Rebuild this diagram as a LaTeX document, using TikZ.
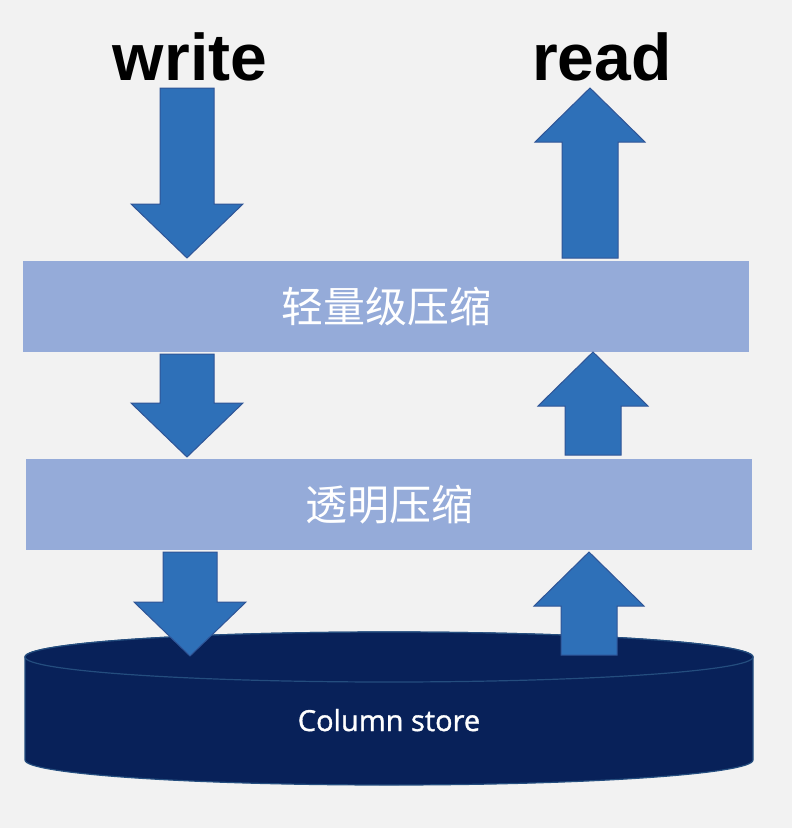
\documentclass[tikz,border=0pt]{standalone}
\usepackage{fontspec}
\setmainfont{Liberation Sans}
\newfontfamily\cjk{Noto Sans CJK SC}
\newfontfamily\labelfont[FakeBold=1.2]{Open Sans}
\definecolor{bgray}{HTML}{F2F2F2}
\definecolor{arrowblue}{HTML}{2E70B8}
\definecolor{arrowedge}{HTML}{2F5597}
\definecolor{layerblue}{HTML}{95ABD9}
\definecolor{storenavy}{HTML}{082159}
\definecolor{storeedge}{HTML}{244D7E}
\tikzset{
	blk/.style={fill=arrowblue, draw=arrowedge, line width=1pt, line join=miter},
	layer/.style={fill=layerblue, minimum width=726pt, minimum height=91pt, inner sep=0pt, text=white, font=\cjk\fontsize{42}{42}\selectfont},
	op/.style={font=\bfseries\fontsize{66}{66}\selectfont, anchor=base},
	store/.style={fill=storenavy, draw=storeedge, line width=1.2pt},
}
% block arrows: centre x, tail y, tip y
\newcommand{\blkdown}[3]{\filldraw[blk] (#1-27,#2) -- (#1+27,#2) -- (#1+27,#3-54) -- (#1+56,#3-54) -- (#1,#3) -- (#1-56,#3-54) -- (#1-27,#3-54) -- cycle;}
\newcommand{\blkup}[3]{\filldraw[blk] (#1-28,#2) -- (#1+28,#2) -- (#1+28,#3+54) -- (#1+55,#3+54) -- (#1,#3) -- (#1-55,#3+54) -- (#1-28,#3+54) -- cycle;}
\begin{document}
\begin{tikzpicture}[x=1pt,y=-1pt]
	\fill[bgray] (0,0) rectangle (792,828);
	\node[op] (write) at (190,80) {write};
	\node[op] (read) at (602,80) {read};
	\node[layer] (light) at (386,306.5) {轻量级压缩};
	\node[layer] (transp) at (389,504.5) {透明压缩};
	% column store
	\filldraw[store] (25,657) -- (25,760) arc[start angle=180, end angle=0, x radius=364, y radius=25] -- (753,657) arc[start angle=360, end angle=180, x radius=364, y radius=25] -- cycle;
	\draw[store] (389,657) ellipse[x radius=364, y radius=25];
	\node[text=white, font=\labelfont\fontsize{29}{29}\selectfont, anchor=base] (colstore) at (389,731) {Column store};
	% write side
	\blkdown{187}{88}{258}
	\blkdown{187}{354}{457}
	\blkdown{190}{552}{656}
	% read side
	\blkup{590}{258}{88}
	\blkup{593}{455}{352}
	\blkup{589}{655}{552}
\end{tikzpicture}
\end{document}
